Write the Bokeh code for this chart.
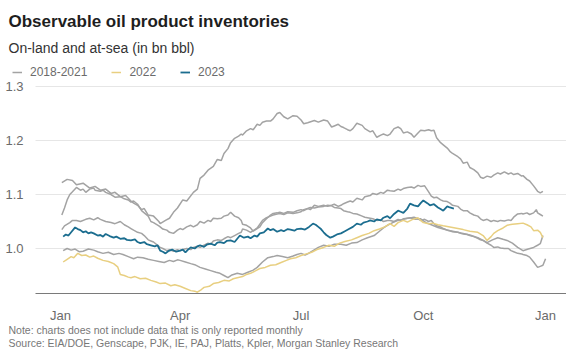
from bokeh.plotting import figure
from bokeh.models import (Range1d, FixedTicker, PrintfTickFormatter, Label,
                          Legend, LegendItem, BoxAnnotation)
from bokeh.embed import file_html
from bokeh.resources import INLINE

# x values: day of the year (0 = 1 Jan)
ticks_x = [0, 90, 181, 273, 365]
ticks_x_labels = ["Jan", "Apr", "Jul", "Oct", "Jan"]
ticks_y = [1.0, 1.1, 1.2, 1.3]

# ---- 2018-2021 (four grey lines) ----
g1_day = [1, 5, 9, 12, 17, 22, 26, 30, 34, 38, 41, 45, 49, 53, 55, 58, 61, 63, 66, 70, 74, 75, 79, 82, 85, 88,
          92, 95, 100, 103, 105, 108, 111, 115, 118, 121, 123, 126, 128, 131, 134, 136, 137, 140, 143, 145, 148,
          150, 152, 155, 158, 160, 163, 165, 168, 171, 175, 178, 181, 183, 186, 191, 194, 198, 201, 204, 206,
          209, 211, 213, 216, 218, 220, 223, 227, 229, 233, 235, 238, 241, 243, 246, 248, 251, 254, 256, 258,
          261, 264, 266, 269, 271, 274, 277, 279, 281, 283, 286, 288, 291, 293, 295, 299, 301, 303, 306, 308,
          311, 314, 316, 318, 321, 324, 326, 329, 331, 334, 337, 339, 341, 344, 347, 348, 351, 353, 356, 359,
          361, 363]
g1_val = [1.122, 1.128, 1.126, 1.118, 1.121, 1.112, 1.115, 1.108, 1.110, 1.102, 1.104, 1.096, 1.098, 1.088,
          1.084, 1.080, 1.072, 1.074, 1.062, 1.060, 1.050, 1.046, 1.052, 1.056, 1.067, 1.075, 1.090, 1.088,
          1.104, 1.110, 1.130, 1.136, 1.145, 1.152, 1.165, 1.163, 1.176, 1.185, 1.196, 1.204, 1.208, 1.212,
          1.210, 1.218, 1.222, 1.220, 1.230, 1.228, 1.234, 1.236, 1.236, 1.240, 1.250, 1.252, 1.244, 1.240,
          1.246, 1.245, 1.238, 1.231, 1.233, 1.237, 1.234, 1.238, 1.236, 1.225, 1.227, 1.230, 1.226, 1.224,
          1.220, 1.218, 1.222, 1.232, 1.228, 1.222, 1.216, 1.218, 1.206, 1.210, 1.212, 1.209, 1.212, 1.222,
          1.225, 1.222, 1.214, 1.216, 1.212, 1.206, 1.214, 1.219, 1.218, 1.220, 1.218, 1.219, 1.205, 1.196,
          1.192, 1.186, 1.180, 1.176, 1.170, 1.166, 1.158, 1.160, 1.150, 1.146, 1.140, 1.132, 1.130, 1.134,
          1.132, 1.136, 1.140, 1.138, 1.142, 1.138, 1.140, 1.137, 1.139, 1.134, 1.135, 1.128, 1.125, 1.116,
          1.106, 1.103, 1.106]

g2_day = [1, 3, 5, 7, 9, 12, 15, 17, 19, 22, 25, 26, 30, 32, 34, 38, 41, 45, 48, 51, 53, 55, 58, 61, 63, 66, 68,
          70, 74, 75, 77, 80, 82, 85, 88, 90, 92, 95, 98, 100, 103, 105, 108, 111, 113, 115, 118, 121, 123, 126,
          128, 131, 134, 136, 137, 140, 143, 145, 148, 150, 152, 155, 158, 160, 163, 165, 168, 171, 175, 178,
          181, 183, 186, 188, 191, 194, 198, 201, 204, 206, 209, 211, 213, 216, 218, 220, 223, 227, 229, 233,
          235, 238, 241, 243, 246, 248, 251, 254, 256, 258, 261, 264, 266, 269, 271, 274, 277, 279, 281, 283,
          286, 288, 291, 293, 295, 299, 301, 303, 306, 308, 311, 314, 316, 318, 321, 324, 326, 329, 331, 334,
          337, 339, 341, 344, 347, 348, 351, 353, 356, 358, 359, 361, 363]
g2_val = [1.062, 1.075, 1.090, 1.100, 1.105, 1.113, 1.108, 1.110, 1.104, 1.110, 1.112, 1.108, 1.106, 1.108,
          1.104, 1.100, 1.095, 1.096, 1.092, 1.090, 1.086, 1.088, 1.082, 1.070, 1.066, 1.060, 1.050, 1.048,
          1.042, 1.040, 1.036, 1.034, 1.030, 1.028, 1.034, 1.037, 1.035, 1.040, 1.043, 1.040, 1.044, 1.050,
          1.047, 1.052, 1.050, 1.056, 1.055, 1.056, 1.060, 1.062, 1.067, 1.060, 1.057, 1.052, 1.045, 1.043,
          1.038, 1.032, 1.037, 1.040, 1.048, 1.055, 1.062, 1.065, 1.066, 1.067, 1.065, 1.068, 1.067, 1.070,
          1.072, 1.070, 1.074, 1.072, 1.080, 1.078, 1.080, 1.078, 1.080, 1.082, 1.078, 1.080, 1.083, 1.086,
          1.088, 1.086, 1.093, 1.090, 1.096, 1.098, 1.102, 1.100, 1.104, 1.102, 1.108, 1.107, 1.106, 1.110,
          1.108, 1.111, 1.113, 1.114, 1.112, 1.117, 1.115, 1.116, 1.105, 1.097, 1.094, 1.095, 1.090, 1.088,
          1.087, 1.084, 1.080, 1.078, 1.073, 1.070, 1.070, 1.066, 1.062, 1.060, 1.055, 1.052, 1.054, 1.050,
          1.052, 1.050, 1.052, 1.051, 1.053, 1.052, 1.058, 1.064, 1.065, 1.064, 1.066, 1.063, 1.066, 1.072,
          1.066, 1.063, 1.060]

g3_day = [1, 3, 7, 9, 12, 15, 19, 22, 25, 28, 30, 34, 38, 41, 45, 48, 51, 53, 55, 58, 61, 63, 66, 68, 70, 74, 75,
          77, 80, 82, 85, 88, 90, 92, 95, 98, 100, 103, 105, 108, 111, 113, 115, 118, 121, 123, 126, 128, 131,
          134, 136, 137, 140, 143, 145, 148, 150, 152, 155, 158, 160, 163, 165, 168, 171, 175, 178, 181, 183,
          186, 188, 191, 194, 198, 201, 204, 206, 209, 211, 213, 216, 218, 220, 223, 227, 229, 233, 235, 238,
          241, 243, 246, 248, 251, 254, 256, 258, 261, 264, 266, 269, 271, 274, 277, 279, 281, 283, 286, 288,
          291, 293, 295, 299, 301, 303, 306, 308, 311, 314, 316, 318, 321, 324, 326, 329, 331, 334, 337, 339,
          341, 344, 347, 348, 351, 353, 356, 359, 361, 363, 365]
g3_val = [1.035, 1.042, 1.048, 1.052, 1.052, 1.050, 1.054, 1.056, 1.053, 1.057, 1.054, 1.050, 1.048, 1.046,
          1.050, 1.044, 1.040, 1.037, 1.034, 1.030, 1.028, 1.024, 1.016, 1.014, 1.012, 1.004, 1.002, 1.000,
          0.996, 0.998, 0.995, 0.998, 0.996, 0.998, 1.000, 0.998, 1.002, 1.004, 1.002, 1.006, 1.010, 1.008,
          1.014, 1.016, 1.015, 1.018, 1.022, 1.020, 1.024, 1.028, 1.030, 1.036, 1.034, 1.030, 1.033, 1.038,
          1.045, 1.052, 1.057, 1.060, 1.062, 1.064, 1.065, 1.063, 1.066, 1.065, 1.066, 1.068, 1.072, 1.074,
          1.076, 1.075, 1.077, 1.078, 1.080, 1.079, 1.076, 1.075, 1.074, 1.070, 1.068, 1.067, 1.065, 1.064,
          1.060, 1.058, 1.056, 1.055, 1.052, 1.053, 1.050, 1.052, 1.052, 1.050, 1.054, 1.052, 1.055, 1.056,
          1.057, 1.058, 1.055, 1.052, 1.054, 1.050, 1.052, 1.046, 1.042, 1.040, 1.037, 1.034, 1.033, 1.031,
          1.030, 1.028, 1.027, 1.026, 1.024, 1.022, 1.019, 1.016, 1.015, 1.010, 1.006, 1.002, 1.003, 1.001,
          1.000, 1.000, 0.996, 0.994, 0.991, 0.990, 0.989, 0.987, 0.984, 0.975, 0.965, 0.967, 0.969, 0.981]

g4_day = [2, 5, 8, 11, 14, 17, 21, 25, 28, 32, 36, 40, 44, 47, 51, 55, 58, 62, 66, 70, 74, 78, 82, 85, 88, 90, 94,
          98, 101, 105, 109, 113, 117, 120, 123, 126, 129, 133, 137, 141, 145, 148, 152, 156, 160, 163, 167,
          171, 175, 178, 181, 184, 186, 190, 194, 198, 202, 206, 211, 215, 219, 223, 227, 231, 236, 240, 243,
          246, 250, 254, 258, 263, 267, 271, 275, 279, 284, 288, 293, 297, 303, 308, 314, 318, 321, 325, 329,
          333, 336, 340, 344, 348, 352, 356, 359, 361, 363]
g4_val = [0.996, 1.000, 0.997, 0.999, 0.994, 0.995, 0.999, 0.997, 0.994, 0.991, 0.993, 0.989, 0.991, 0.989,
          0.985, 0.981, 0.984, 0.983, 0.980, 0.978, 0.976, 0.974, 0.978, 0.976, 0.979, 0.978, 0.975, 0.972,
          0.970, 0.965, 0.962, 0.959, 0.956, 0.954, 0.950, 0.946, 0.951, 0.954, 0.952, 0.956, 0.960, 0.965,
          0.975, 0.983, 0.985, 0.987, 0.985, 0.983, 0.986, 0.989, 0.991, 0.988, 0.990, 0.996, 1.002, 1.006,
          1.004, 1.008, 1.008, 1.006, 1.010, 1.011, 1.016, 1.020, 1.024, 1.032, 1.038, 1.043, 1.048, 1.052,
          1.054, 1.057, 1.054, 1.055, 1.048, 1.044, 1.039, 1.036, 1.033, 1.031, 1.028, 1.025, 1.020, 1.015,
          1.011, 1.016, 1.020, 1.017, 1.015, 1.010, 1.002, 0.996, 0.999, 1.002, 1.006, 1.009, 1.024]

# ---- 2022 ----
y22_day = [2, 5, 8, 10, 13, 16, 19, 22, 25, 28, 32, 36, 40, 43, 45, 48, 51, 53, 56, 60, 64, 68, 72, 75, 79, 83, 86,
           90, 94, 98, 101, 103, 106, 108, 112, 115, 119, 123, 127, 130, 133, 137, 140, 143, 147, 150, 154, 158,
           162, 166, 170, 173, 177, 181, 185, 189, 193, 198, 202, 206, 210, 214, 219, 223, 227, 232, 236, 240,
           244, 248, 251, 254, 258, 261, 265, 269, 271, 273, 277, 280, 284, 288, 293, 297, 303, 308, 314, 318,
           321, 324, 326, 329, 333, 336, 340, 344, 348, 351, 354, 356, 359, 361, 363]
y22_val = [0.975, 0.980, 0.985, 0.983, 0.991, 0.987, 0.988, 0.984, 0.986, 0.982, 0.978, 0.976, 0.972, 0.966,
           0.952, 0.950, 0.947, 0.946, 0.948, 0.944, 0.945, 0.941, 0.938, 0.935, 0.936, 0.931, 0.933, 0.930,
           0.926, 0.922, 0.921, 0.919, 0.924, 0.928, 0.930, 0.935, 0.937, 0.941, 0.940, 0.944, 0.946, 0.948,
           0.952, 0.954, 0.959, 0.963, 0.965, 0.969, 0.970, 0.974, 0.978, 0.981, 0.983, 0.987, 0.990, 0.993,
           0.998, 1.002, 1.006, 1.004, 1.010, 1.013, 1.016, 1.020, 1.024, 1.028, 1.033, 1.036, 1.040, 1.046,
           1.041, 1.048, 1.052, 1.049, 1.054, 1.057, 1.052, 1.048, 1.046, 1.047, 1.044, 1.042, 1.040, 1.038,
           1.035, 1.032, 1.030, 1.024, 1.015, 1.022, 1.028, 1.033, 1.038, 1.043, 1.045, 1.046, 1.047, 1.044,
           1.040, 1.033, 1.034, 1.030, 1.020]

# ---- 2023 ----
y23_day = [2, 4, 6, 8, 11, 13, 15, 17, 19, 21, 23, 25, 28, 30, 32, 34, 37, 40, 42, 45, 48, 50, 53, 56, 58, 60, 63,
           65, 68, 71, 73, 75, 77, 79, 81, 84, 87, 90, 92, 94, 96, 98, 101, 103, 105, 108, 110, 113, 116, 118,
           120, 123, 125, 128, 131, 133, 135, 138, 141, 143, 146, 148, 150, 153, 156, 158, 160, 163, 166, 168,
           171, 173, 176, 178, 181, 184, 187, 190, 192, 194, 196, 198, 200, 203, 205, 208, 211, 214, 217, 220,
           223, 226, 228, 231, 233, 236, 238, 241, 243, 246, 248, 251, 254, 256, 258, 261, 263, 266, 269, 271,
           273, 276, 278, 281, 284, 286, 288, 291, 293, 296]
y23_val = [1.022, 1.026, 1.024, 1.030, 1.039, 1.036, 1.034, 1.030, 1.032, 1.028, 1.030, 1.028, 1.024, 1.025,
           1.022, 1.027, 1.023, 1.020, 1.022, 1.018, 1.019, 1.016, 1.015, 1.017, 1.012, 1.010, 1.012, 1.008,
           1.006, 1.004, 1.006, 0.996, 0.994, 0.991, 0.995, 0.998, 0.994, 0.996, 0.998, 0.993, 0.998, 1.002,
           1.000, 1.004, 1.006, 1.003, 1.007, 1.009, 1.006, 1.011, 1.012, 1.010, 1.014, 1.015, 1.012, 1.018,
           1.024, 1.020, 1.022, 1.019, 1.024, 1.022, 1.028, 1.030, 1.037, 1.034, 1.036, 1.031, 1.034, 1.032,
           1.036, 1.035, 1.033, 1.036, 1.037, 1.035, 1.040, 1.046, 1.044, 1.040, 1.036, 1.030, 1.025, 1.020,
           1.022, 1.026, 1.028, 1.032, 1.036, 1.040, 1.046, 1.044, 1.048, 1.050, 1.052, 1.050, 1.054, 1.052,
           1.057, 1.060, 1.056, 1.064, 1.070, 1.068, 1.066, 1.074, 1.083, 1.080, 1.078, 1.084, 1.089, 1.084,
           1.080, 1.082, 1.076, 1.073, 1.070, 1.078, 1.076, 1.074]

GREY = "#a3a3a3"
GOLD = "#e8cf80"
BLUE = "#1b6d8f"
FONT = "Liberation Sans"

# plotting window: frame covers the whole canvas; axes are pinned inside it
X_MIN, X_MAX = -45.15, 380.74
Y_MIN, Y_MAX = 0.8111, 1.4593
AXIS_X = -18.8      # where the (invisible) y axis sits
AXIS_Y = 0.9167     # where the x axis line sits

p = figure(width=566, height=350, output_backend="svg", toolbar_location=None, title=None,
           x_range=Range1d(X_MIN, X_MAX), y_range=Range1d(Y_MIN, Y_MAX),
           min_border=0, min_border_left=0, min_border_right=0, min_border_top=0, min_border_bottom=0)
p.outline_line_color = None
p.background_fill_color = "white"
p.border_fill_color = "white"

grey_r = None
for d, v in [(g1_day, g1_val), (g2_day, g2_val), (g3_day, g3_val), (g4_day, g4_val)]:
    r = p.line(d, v, line_color=GREY, line_width=1.5)
    if grey_r is None:
        grey_r = r
r22 = p.line(y22_day, y22_val, line_color=GOLD, line_width=1.5)
r23 = p.line(y23_day, y23_val, line_color=BLUE, line_width=1.8)

# axes
p.xaxis.fixed_location = AXIS_Y
p.xaxis.bounds = (AXIS_X, X_MAX)
p.xaxis.ticker = FixedTicker(ticks=ticks_x)
p.xaxis.major_label_overrides = {t: l for t, l in zip(ticks_x, ticks_x_labels)}
p.xaxis.axis_line_color = "#7a7a7a"
p.xaxis.axis_line_width = 1.2
p.xaxis.major_tick_line_color = None
p.xaxis.minor_tick_line_color = None
p.xaxis.major_label_standoff = 9
p.xaxis.major_label_text_font = FONT
p.xaxis.major_label_text_font_size = "13px"
p.xaxis.major_label_text_color = "#6b6b6b"

p.yaxis.fixed_location = AXIS_X
p.yaxis.ticker = FixedTicker(ticks=ticks_y)
p.yaxis.formatter = PrintfTickFormatter(format="%.1f")
p.yaxis.axis_line_color = None
p.yaxis.major_tick_line_color = None
p.yaxis.minor_tick_line_color = None
p.yaxis.major_label_standoff = 6
p.yaxis.major_label_text_font = FONT
p.yaxis.major_label_text_font_size = "13px"
p.yaxis.major_label_text_color = "#6b6b6b"

p.xgrid.grid_line_color = None
p.ygrid.grid_line_color = "#e6e6e6"
p.ygrid.grid_line_width = 1.2
p.ygrid.level = "image"

# white strip hiding the grid lines left of the plotting area (behind the tick labels)
p.add_layout(BoxAnnotation(left=X_MIN, right=AXIS_X, bottom=Y_MIN, top=Y_MAX,
                           fill_color="white", fill_alpha=1.0, line_color=None, level="underlay"))

legend = Legend(items=[LegendItem(label="2018-2021", renderers=[grey_r]),
                       LegendItem(label="2022", renderers=[r22]),
                       LegendItem(label="2023", renderers=[r23])],
                orientation="horizontal", location=(12, 270),
                glyph_width=10, glyph_height=16, label_standoff=8, spacing=24,
                padding=0, margin=0, label_height=16,
                label_text_font=FONT, label_text_font_size="12px", label_text_color="#6b6b6b",
                border_line_color=None, background_fill_alpha=0)
p.add_layout(legend)

texts = [
    ("Observable oil product inventories", 329, "17px", "bold", "#1e1e1e"),
    ("On-land and at-sea (in bn bbl)", 303, "14px", "normal", "#333333"),
    ("Note: charts does not include data that is only reported monthly", 21, "10.5px", "normal", "#777777"),
    ("Source: EIA/DOE, Genscape, PJK, IE, PAJ, Platts, Kpler, Morgan Stanley Research", 8, "10.5px", "normal", "#777777"),
]
for t, y, fs, st, col in texts:
    p.add_layout(Label(x=8, y=y, x_units="screen", y_units="screen", text=t,
                       text_font=FONT, text_font_size=fs, text_font_style=st,
                       text_color=col, text_baseline="middle", text_align="left"))

open("out.html", "w").write(file_html(p, INLINE))
